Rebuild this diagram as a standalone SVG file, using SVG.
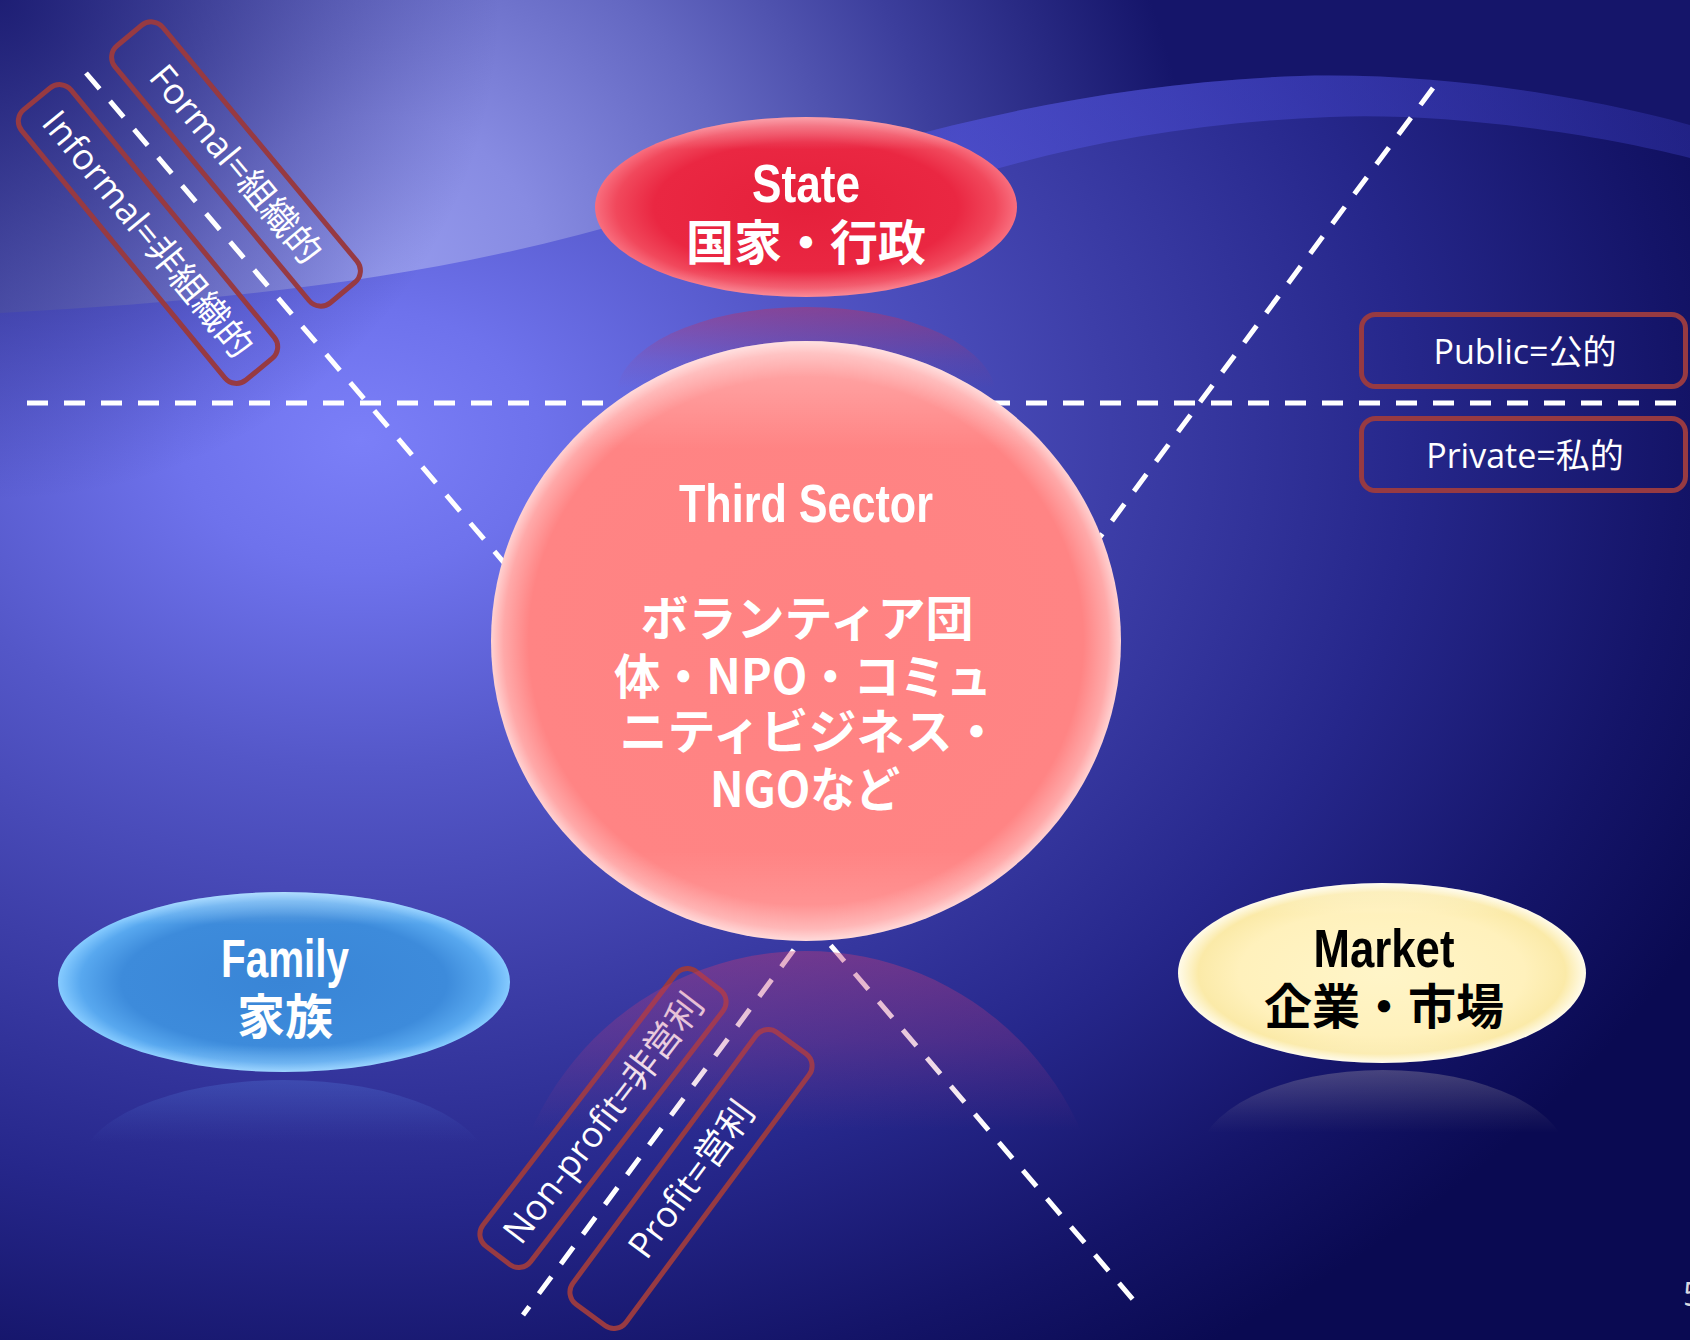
<svg xmlns="http://www.w3.org/2000/svg" width="1690" height="1340" viewBox="0 0 1690 1340">
  <defs>
    <radialGradient id="bgBase" gradientUnits="userSpaceOnUse" cx="360" cy="440" r="1500" gradientTransform="translate(360 440) scale(1 0.73) translate(-360 -440)">
      <stop offset="0" stop-color="#7b7ff8"/>
      <stop offset="0.12" stop-color="#6e72ec"/>
      <stop offset="0.3" stop-color="#5457c8"/>
      <stop offset="0.5" stop-color="#3d3ea8"/>
      <stop offset="0.7" stop-color="#26278b"/>
      <stop offset="0.88" stop-color="#141468"/>
      <stop offset="1" stop-color="#0a0a52"/>
    </radialGradient>
    <radialGradient id="topGrad" gradientUnits="userSpaceOnUse" cx="380" cy="280" r="820">
      <stop offset="0" stop-color="#969bee"/>
      <stop offset="0.2" stop-color="#878be2"/>
      <stop offset="0.45" stop-color="#6468c2"/>
      <stop offset="0.7" stop-color="#3c3e9c"/>
      <stop offset="1" stop-color="#15156a"/>
    </radialGradient>
    <radialGradient id="cornerDark" gradientUnits="userSpaceOnUse" cx="0" cy="0" r="500">
      <stop offset="0" stop-color="#15156a" stop-opacity="0.85"/>
      <stop offset="1" stop-color="#15156a" stop-opacity="0"/>
    </radialGradient>
    <linearGradient id="bandGrad" x1="0" y1="0" x2="1" y2="0">
      <stop offset="0" stop-color="#5a5cf0" stop-opacity="0"/>
      <stop offset="0.3" stop-color="#5a5cf0" stop-opacity="0.4"/>
      <stop offset="1" stop-color="#4a4ce0" stop-opacity="0.3"/>
    </linearGradient>
    <radialGradient id="stateFill" cx="0.5" cy="0.5" r="0.5">
      <stop offset="0" stop-color="#e5203b"/>
      <stop offset="0.72" stop-color="#ea2742"/>
      <stop offset="0.9" stop-color="#f1485c"/>
      <stop offset="1" stop-color="#f86e7e"/>
    </radialGradient>
    <radialGradient id="thirdFill" cx="0.5" cy="0.5" r="0.5">
      <stop offset="0" stop-color="#ff8282"/>
      <stop offset="0.88" stop-color="#ff8484"/>
      <stop offset="0.96" stop-color="#ffa9a9"/>
      <stop offset="1" stop-color="#ffd2d2"/>
    </radialGradient>
    <radialGradient id="familyFill" cx="0.5" cy="0.5" r="0.5">
      <stop offset="0" stop-color="#3985d6"/>
      <stop offset="0.72" stop-color="#3d8bdb"/>
      <stop offset="0.9" stop-color="#58a8ef"/>
      <stop offset="1" stop-color="#86cbff"/>
    </radialGradient>
    <radialGradient id="marketFill" cx="0.5" cy="0.5" r="0.5">
      <stop offset="0" stop-color="#fff5c8"/>
      <stop offset="0.7" stop-color="#fff1bc"/>
      <stop offset="0.9" stop-color="#fbeaa8"/>
      <stop offset="1" stop-color="#fffbea"/>
    </radialGradient>
    <linearGradient id="gloss" x1="0" y1="0" x2="0" y2="1">
      <stop offset="0" stop-color="#ffffff" stop-opacity="0.35"/>
      <stop offset="0.18" stop-color="#ffffff" stop-opacity="0"/>
      <stop offset="0.85" stop-color="#ffffff" stop-opacity="0"/>
      <stop offset="1" stop-color="#ffffff" stop-opacity="0.2"/>
    </linearGradient>
    <linearGradient id="reflRed" x1="0" y1="0" x2="0" y2="1">
      <stop offset="0" stop-color="#c03a78" stop-opacity="0.42"/>
      <stop offset="0.15" stop-color="#b03a80" stop-opacity="0.26"/>
      <stop offset="0.3" stop-color="#a03a80" stop-opacity="0"/>
    </linearGradient>
    <linearGradient id="reflState" x1="0" y1="0" x2="0" y2="1">
      <stop offset="0" stop-color="#c03060" stop-opacity="0.45"/>
      <stop offset="0.3" stop-color="#c03060" stop-opacity="0.1"/>
      <stop offset="0.45" stop-color="#c03060" stop-opacity="0"/>
    </linearGradient>
    <linearGradient id="reflBlue" x1="0" y1="0" x2="0" y2="1">
      <stop offset="0" stop-color="#5a8ae8" stop-opacity="0.26"/>
      <stop offset="0.25" stop-color="#5a8ae8" stop-opacity="0.06"/>
      <stop offset="0.35" stop-color="#5a8ae8" stop-opacity="0"/>
    </linearGradient>
    <linearGradient id="reflCream" x1="0" y1="0" x2="0" y2="1">
      <stop offset="0" stop-color="#fff0d0" stop-opacity="0.22"/>
      <stop offset="0.25" stop-color="#fff0d0" stop-opacity="0.05"/>
      <stop offset="0.35" stop-color="#fff0d0" stop-opacity="0"/>
    </linearGradient>
    <style>
      .dash { fill: none; stroke: #ffffff; stroke-width: 5; stroke-dasharray: 21 16; }
      .lbl-box { fill: none; stroke: #973a42; stroke-width: 5; }
      .lbl-txt { font-family: "Open Sans", "Noto Sans CJK JP", sans-serif; font-size: 36px; fill: #ffffff; text-anchor: middle; }
      .side-txt { font-family: "Open Sans", "Noto Sans CJK JP", sans-serif; font-size: 34px; fill: #ffffff; text-anchor: middle; }
      .node-en { font-family: "Liberation Sans", "Noto Sans CJK JP", sans-serif; font-weight: bold; font-size: 54px; text-anchor: middle; }
      .node-jp { font-family: "Noto Sans CJK JP", sans-serif; font-weight: bold; font-size: 48px; text-anchor: middle; }
    </style>
  </defs>

  <!-- background -->
  <rect x="0" y="0" width="1690" height="1340" fill="url(#bgBase)"/>
  <path d="M0,313 C250,300 450,275 650,215 C850,150 1050,85 1300,76 C1450,72 1600,100 1690,125 L1690,0 L0,0 Z" fill="url(#topGrad)"/>
  <rect x="0" y="0" width="600" height="500" fill="url(#cornerDark)"/>
  <path d="M650,215 C850,150 1050,85 1300,76 C1450,72 1600,100 1690,125 L1690,158 C1600,135 1450,112 1330,117 C1150,124 1000,160 860,215 C780,240 700,240 650,215 Z" fill="url(#bandGrad)"/>

  <!-- connectors -->
  <g id="connectors">
    <line class="dash" x1="27" y1="403" x2="1690" y2="403"/>
    <line class="dash" x1="86" y1="73" x2="1142" y2="1310"/>
    <line class="dash" x1="1433" y1="88" x2="523" y2="1315"/>
  </g>

  <!-- axis labels -->
  <g id="label-formal" transform="translate(236 164) rotate(50.3)">
    <rect class="lbl-box" x="-167" y="-31" width="334" height="62" rx="15"/>
    <text class="lbl-txt" x="0" y="13">Formal=組織的</text>
  </g>
  <g id="label-informal" transform="translate(148 234) rotate(50.6)">
    <rect class="lbl-box" x="-175" y="-32" width="350" height="64" rx="15"/>
    <text class="lbl-txt" x="0" y="13">Informal=非組織的</text>
  </g>
  <g id="label-public">
    <rect class="lbl-box" x="1361.5" y="314.5" width="324" height="72" rx="14"/>
    <text class="side-txt" x="1525" y="364">Public=公的</text>
  </g>
  <g id="label-private">
    <rect class="lbl-box" x="1361.5" y="418.5" width="324" height="72" rx="14"/>
    <text class="side-txt" x="1525" y="468">Private=私的</text>
  </g>
  <g id="label-nonprofit" transform="translate(603 1118) rotate(-52.5)">
    <rect class="lbl-box" x="-173" y="-30" width="346" height="60" rx="15"/>
    <text class="lbl-txt" x="0" y="13">Non-profit=非営利</text>
  </g>
  <g id="label-profit" transform="translate(691 1179) rotate(-53.5)">
    <rect class="lbl-box" x="-169" y="-33" width="338" height="66" rx="15"/>
    <text class="lbl-txt" x="0" y="13">Profit=営利</text>
  </g>

  <!-- reflections -->
  <g id="reflections">
    <ellipse cx="806" cy="397" rx="190" ry="90" fill="url(#reflState)"/>
    <ellipse cx="806" cy="1251" rx="300" ry="300" fill="url(#reflRed)"/>
    <ellipse cx="284" cy="1170" rx="205" ry="90" fill="url(#reflBlue)"/>
    <ellipse cx="1383" cy="1160" rx="185" ry="90" fill="url(#reflCream)"/>
  </g>

  <!-- nodes -->
  <g id="node-state">
    <ellipse cx="806" cy="207" rx="211" ry="90" fill="url(#stateFill)"/>
    <ellipse cx="806" cy="207" rx="211" ry="90" fill="url(#gloss)"/>
    <text class="node-en" x="806" y="202" fill="#ffffff" textLength="108" lengthAdjust="spacingAndGlyphs">State</text>
    <text class="node-jp" x="806" y="260" fill="#ffffff">国家・行政</text>
  </g>
  <g id="node-third">
    <ellipse cx="806" cy="641" rx="315" ry="300" fill="url(#thirdFill)"/>
    <ellipse cx="806" cy="641" rx="315" ry="300" fill="url(#gloss)"/>
    <text class="node-en" x="806" y="522" fill="#ffffff" textLength="254" lengthAdjust="spacingAndGlyphs">Third Sector</text>
    <text class="node-jp" x="807" y="636" fill="#ffffff">ボランティア団</text>
    <text class="node-jp" x="803" y="694" fill="#ffffff" textLength="378" lengthAdjust="spacingAndGlyphs">体・NPO・コミュ</text>
    <text class="node-jp" x="810" y="749" fill="#ffffff">ニティビジネス・</text>
    <text class="node-jp" x="805" y="807" fill="#ffffff" textLength="190" lengthAdjust="spacingAndGlyphs">NGOなど</text>
  </g>
  <g id="node-family">
    <ellipse cx="284" cy="982" rx="226" ry="90" fill="url(#familyFill)"/>
    <ellipse cx="284" cy="982" rx="226" ry="90" fill="url(#gloss)"/>
    <text class="node-en" x="285" y="977" fill="#ffffff" textLength="128" lengthAdjust="spacingAndGlyphs">Family</text>
    <text class="node-jp" x="285" y="1034" fill="#ffffff">家族</text>
  </g>
  <g id="node-market">
    <ellipse cx="1382" cy="973" rx="204" ry="90" fill="url(#marketFill)"/>
    <ellipse cx="1382" cy="973" rx="204" ry="90" fill="url(#gloss)"/>
    <text class="node-en" x="1384" y="967" fill="#000000" textLength="141" lengthAdjust="spacingAndGlyphs">Market</text>
    <text class="node-jp" x="1384" y="1024" fill="#000000">企業・市場</text>
  </g>

  <text x="1683" y="1306" font-family="Open Sans, sans-serif" font-size="32" fill="#d8d8e0">5</text>
</svg>
